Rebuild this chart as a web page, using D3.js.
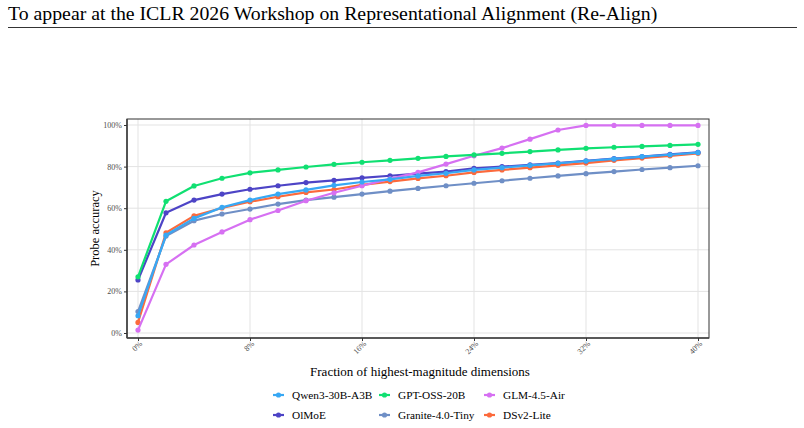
<!DOCTYPE html>
<html>
<head>
<meta charset="utf-8">
<script src="https://cdn.jsdelivr.net/npm/d3@7"></script>
<style>
  body { margin: 0; background: #fff; }
  svg { display: block; font-family: "Liberation Serif", "Times New Roman", serif; }
</style>
</head>
<body>
<svg id="chart" width="804" height="428"></svg>
<script>
// fraction of highest-magnitude dimensions (%)
const fractions = [0, 2, 4, 6, 8, 10, 12, 14, 16, 18, 20, 22, 24, 26, 28, 30, 32, 34, 36, 38, 40];

const qwen = [8.3, 47.1, 55.1, 60.4, 63.9, 66.8, 68.8, 71.0, 72.6, 73.9, 75.5, 76.8, 78.4, 79.5, 80.6, 81.6, 82.7, 83.7, 84.8, 85.7, 86.7];
const gptOss = [27.0, 63.3, 70.7, 74.4, 77.0, 78.4, 79.8, 81.1, 82.1, 83.0, 84.0, 84.9, 85.6, 86.4, 87.2, 88.0, 88.8, 89.3, 89.7, 90.2, 90.7];
const glm = [1.4, 33.0, 42.3, 48.6, 54.5, 58.9, 63.6, 67.4, 70.8, 74.1, 77.2, 81.2, 85.2, 88.9, 93.2, 97.6, 99.8, 99.8, 99.8, 99.8, 99.8];
const olmoe = [25.5, 57.8, 63.9, 66.8, 69.1, 70.8, 72.3, 73.4, 74.6, 75.6, 76.6, 77.6, 79.2, 80.0, 80.8, 81.7, 82.8, 83.8, 84.8, 85.9, 86.9];
const granite = [10.3, 46.6, 54.0, 57.2, 59.6, 62.0, 63.9, 65.3, 66.8, 68.2, 69.5, 70.8, 72.0, 73.2, 74.4, 75.5, 76.6, 77.6, 78.6, 79.5, 80.4];
const dsv2 = [5.1, 48.2, 56.3, 60.1, 63.1, 65.5, 67.6, 69.0, 71.2, 72.8, 74.3, 75.6, 77.2, 78.4, 79.5, 80.6, 81.7, 83.0, 84.1, 85.2, 86.4];

const xTicks = [0, 8, 16, 24, 32, 40];
const yTicks = [0, 20, 40, 60, 80, 100];

// legend order (by row) and drawing order
const legendOrder = ['Qwen3-30B-A3B', 'GPT-OSS-20B', 'GLM-4.5-Air', 'OlMoE', 'Granite-4.0-Tiny', 'DSv2-Lite'];
const drawOrder = ['DSv2-Lite', 'Granite-4.0-Tiny', 'OlMoE', 'GLM-4.5-Air', 'GPT-OSS-20B', 'Qwen3-30B-A3B'];

const seriesValues = {
  'Qwen3-30B-A3B': qwen,
  'GPT-OSS-20B': gptOss,
  'GLM-4.5-Air': glm,
  'OlMoE': olmoe,
  'Granite-4.0-Tiny': granite,
  'DSv2-Lite': dsv2
};

const colors = {
  'Qwen3-30B-A3B': '#38a8f4',
  'GPT-OSS-20B': '#10e072',
  'GLM-4.5-Air': '#d670f2',
  'OlMoE': '#4d44c6',
  'Granite-4.0-Tiny': '#6f8fc6',
  'DSv2-Lite': '#fc6a3c'
};

const svg = d3.select('#chart');

// page header
svg.append('text').attr('x', 8).attr('y', 20)
  .style('font-size', '19.8px').style('fill', '#000')
  .text('To appear at the ICLR 2026 Workshop on Representational Alignment (Re-Align)');
svg.append('line').attr('x1', 8).attr('x2', 797).attr('y1', 27.5).attr('y2', 27.5)
  .attr('stroke', '#000').attr('stroke-width', 0.8);

const panel = { left: 127, right: 709, top: 119, bottom: 338 };

const x = d3.scaleLinear().domain([0, 40]).range([138, 698]);
const y = d3.scaleLinear().domain([0, 100]).range([333, 125]);

const g = svg.append('g');

// grid
g.selectAll('.vgrid').data(xTicks).enter().append('line')
  .attr('x1', d => x(d)).attr('x2', d => x(d))
  .attr('y1', panel.top).attr('y2', panel.bottom)
  .attr('stroke', '#e3e3e3').attr('stroke-width', 1);
g.selectAll('.hgrid').data(yTicks).enter().append('line')
  .attr('x1', panel.left).attr('x2', panel.right)
  .attr('y1', d => y(d)).attr('y2', d => y(d))
  .attr('stroke', '#e3e3e3').attr('stroke-width', 1);

// series
const line = d3.line().x((d, i) => x(fractions[i])).y(d => y(d));
drawOrder.forEach(name => {
  const vals = seriesValues[name];
  g.append('path').datum(vals)
    .attr('d', line)
    .attr('fill', 'none')
    .attr('stroke', colors[name])
    .attr('stroke-width', 2.2)
    .attr('stroke-linejoin', 'round');
  g.selectAll(null).data(vals).enter().append('circle')
    .attr('cx', (d, i) => x(fractions[i]))
    .attr('cy', d => y(d))
    .attr('r', 2.6)
    .attr('fill', colors[name]);
});

// panel border
g.append('rect')
  .attr('x', panel.left).attr('y', panel.top)
  .attr('width', panel.right - panel.left).attr('height', panel.bottom - panel.top)
  .attr('fill', 'none').attr('stroke', '#333').attr('stroke-width', 1);
// axis lines (thicker left & bottom)
g.append('line').attr('x1', panel.left).attr('x2', panel.right).attr('y1', panel.bottom).attr('y2', panel.bottom)
  .attr('stroke', '#444').attr('stroke-width', 1.6);
g.append('line').attr('x1', panel.left).attr('x2', panel.left).attr('y1', panel.top).attr('y2', panel.bottom)
  .attr('stroke', '#444').attr('stroke-width', 1.6);

// y axis
const yAxis = d3.axisLeft(y).tickValues(yTicks).tickSize(3).tickPadding(2).tickFormat(d => d + '%');
const yg = svg.append('g').attr('transform', `translate(${panel.left},0)`).call(yAxis);
yg.select('.domain').remove();
yg.selectAll('.tick line').attr('stroke', '#333');
yg.selectAll('.tick text').style('font-family', '"Liberation Serif", serif').style('font-size', '8px').style('fill', '#4d4d4d');

// x axis
const xAxis = d3.axisBottom(x).tickValues(xTicks).tickSize(3).tickFormat(d => d + '%');
const xg = svg.append('g').attr('transform', `translate(0,${panel.bottom})`).call(xAxis);
xg.select('.domain').remove();
xg.selectAll('.tick line').attr('stroke', '#333');
xg.selectAll('.tick text')
  .style('font-family', '"Liberation Serif", serif').style('font-size', '8px').style('fill', '#4d4d4d')
  .attr('text-anchor', 'end')
  .attr('dy', null).attr('y', 0)
  .attr('transform', 'translate(3,5) rotate(-45)')
  .attr('dominant-baseline', 'middle');

// axis titles
svg.append('text').attr('x', 420).attr('y', 376)
  .attr('text-anchor', 'middle').style('font-size', '13px').style('fill', '#000')
  .text('Fraction of highest-magnitude dimensions');
svg.append('text')
  .attr('transform', `translate(99,${(panel.top + panel.bottom) / 2}) rotate(-90)`)
  .attr('text-anchor', 'middle').style('font-size', '12.5px').style('fill', '#000')
  .text('Probe accuracy');

// legend
const colX = [292, 398, 503];
const rowY = [395, 415];
legendOrder.forEach((name, i) => {
  const cx = colX[i % 3], cy = rowY[Math.floor(i / 3)];
  const lg = svg.append('g');
  lg.append('line').attr('x1', cx - 19).attr('x2', cx - 8).attr('y1', cy).attr('y2', cy)
    .attr('stroke', colors[name]).attr('stroke-width', 2.2);
  lg.append('circle').attr('cx', cx - 13.5).attr('cy', cy).attr('r', 2.6).attr('fill', colors[name]);
  lg.append('text').attr('x', cx).attr('y', cy).attr('dy', '0.35em')
    .style('font-size', '11.3px').style('fill', '#000').text(name);
});
</script>
</body>
</html>
